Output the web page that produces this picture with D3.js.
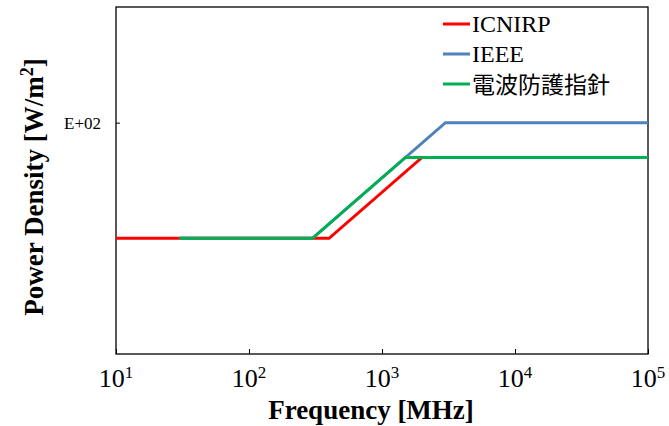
<!DOCTYPE html>
<html>
<head>
<meta charset="utf-8">
<script src="https://cdn.jsdelivr.net/npm/d3@7"></script>
<style>
  body { margin: 0; background: #fff; }
  svg { display: block; }
</style>
</head>
<body>
<script>
// データ
const seriesNames = ['ICNIRP', 'IEEE', '電波防護指針'];
const seriesColors = ['#ff0000', '#4f81bd', '#00b050'];
const icnirpFreq = [10, 400, 2000, 100000];
const icnirpValue = [10, 10, 50, 50];
const ieeeFreq = [30, 300, 3000, 100000];
const ieeeValue = [10, 10, 100, 100];
const shishinFreq = [30, 300, 1500, 100000];
const shishinValue = [10, 10, 50, 50];
const xTicks = [1e1, 1e2, 1e3, 1e4, 1e5];
const yTicks = [100];
const yTickLabels = ['E+02'];

const width = 669, height = 426;
const margin = {left: 116, right: 21, top: 7, bottom: 72};

const svg = d3.select('body').append('svg')
    .attr('width', width)
    .attr('height', height);

const x = d3.scaleLog().domain([10, 1e5]).range([margin.left, width - margin.right]);
const y = d3.scaleLog().domain([1, 1000]).range([height - margin.bottom, margin.top]);

// 枠
svg.append('rect')
    .attr('x', margin.left).attr('y', margin.top)
    .attr('width', x.range()[1] - margin.left)
    .attr('height', y.range()[0] - margin.top)
    .attr('fill', 'none').attr('stroke', '#000').attr('stroke-width', 1.3);

// x 軸
const xAxis = svg.append('g')
    .attr('transform', `translate(0,${y.range()[0]})`)
    .call(d3.axisBottom(x).tickValues(xTicks).tickSize(-5).tickFormat(''));
xAxis.select('.domain').remove();
xAxis.selectAll('line').attr('stroke', '#000');

const xLab = svg.append('g').selectAll('text')
    .data(xTicks)
    .enter()
    .append('text')
    .attr('x', d => x(d))
    .attr('y', 387)
    .attr('text-anchor', 'middle')
    .attr('font-family', '"Liberation Serif", "Times New Roman", serif')
    .attr('font-size', 26);
xLab.append('tspan').text('10');
xLab.append('tspan').attr('dy', -9).attr('font-size', 17).text(d => Math.round(Math.log10(d)));

// y 軸
const yAxis = svg.append('g')
    .attr('transform', `translate(${margin.left},0)`)
    .call(d3.axisLeft(y).tickValues(yTicks).tickSize(-4).tickFormat((d, i) => yTickLabels[i]));
yAxis.select('.domain').remove();
yAxis.selectAll('line').attr('stroke', '#000');
yAxis.selectAll('text')
    .attr('x', -15)
    .attr('font-family', '"Liberation Serif", "Times New Roman", serif')
    .attr('font-size', 17)
    .attr('fill', '#000');

// 線
const line = d3.line().x(d => x(d[0])).y(d => y(d[1]));
const series = [
    d3.zip(icnirpFreq, icnirpValue),
    d3.zip(ieeeFreq, ieeeValue),
    d3.zip(shishinFreq, shishinValue)
];
svg.append('g').selectAll('path')
    .data(series)
    .enter()
    .append('path')
    .attr('d', line)
    .attr('fill', 'none')
    .attr('stroke', (d, i) => seriesColors[i])
    .attr('stroke-width', 3);

// 凡例
const legendY = [24, 54, 84];
const legend = svg.append('g').selectAll('g')
    .data(seriesNames)
    .enter()
    .append('g')
    .attr('transform', (d, i) => `translate(443,${legendY[i]})`);
legend.append('line')
    .attr('x1', 0).attr('x2', 27)
    .attr('stroke', (d, i) => seriesColors[i])
    .attr('stroke-width', 3);
legend.append('text')
    .attr('x', 29)
    .attr('y', (d, i) => i < 2 ? 8 : 9)
    .attr('font-family', (d, i) => i < 2 ? '"Liberation Serif", serif' : '"Noto Sans CJK JP", sans-serif')
    .attr('font-size', (d, i) => i < 2 ? 24 : 23)
    .text(d => d);

// 軸タイトル
svg.append('text')
    .attr('x', 371).attr('y', 419)
    .attr('text-anchor', 'middle')
    .attr('font-family', '"Liberation Serif", serif')
    .attr('font-weight', 'bold')
    .attr('font-size', 27)
    .text('Frequency [MHz]');

const yTitle = svg.append('text')
    .attr('transform', 'translate(43,187) rotate(-90)')
    .attr('text-anchor', 'middle')
    .attr('font-family', '"Liberation Serif", serif')
    .attr('font-weight', 'bold')
    .attr('font-size', 27);
yTitle.append('tspan').text('Power Density [W/m');
yTitle.append('tspan').attr('dy', -10).attr('font-size', 18).text('2');
yTitle.append('tspan').attr('dy', 10).text(']');
</script>
</body>
</html>
